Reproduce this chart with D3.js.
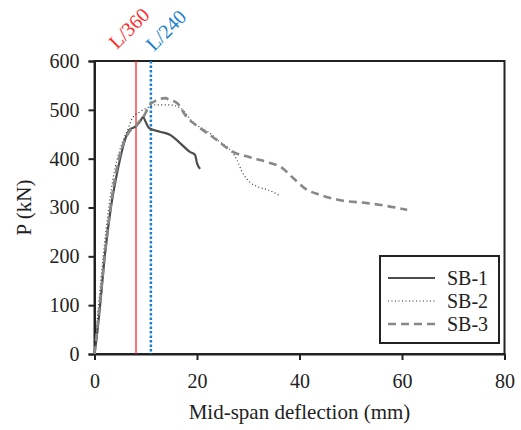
<!DOCTYPE html>
<html>
<head>
<meta charset="utf-8">
<script src="https://cdn.jsdelivr.net/npm/d3@7"></script>
<style>
  body { margin: 0; background: #fff; }
  svg text { font-family: "Liberation Serif", "Times New Roman", Times, serif !important; }
</style>
</head>
<body>
<svg id="chart" width="521" height="430"></svg>
<script>
// data: [deflection mm, load kN]
var sb1 = [[0,0],[0.5,40],[1.1,100],[2.0,200],[3.2,300],[4.2,360],[5.0,400],[6.0,440],[6.9,460],
  [7.9,465],[8.8,475],[9.5,485],[10.0,475],[10.6,463],[12.8,455],[14.7,449],[16.7,432],
  [18.6,414],[19.6,408],[20.0,391],[20.6,379]]
var sb2 = [[0,0],[0.4,50],[0.8,100],[1.7,200],[2.8,300],[3.8,370],[5.0,420],[6.5,460],[7.5,485],
  [8.9,496],[10.5,505],[11.8,510],[14.7,510],[16.7,504],[19.2,475],[22.9,449],[24.5,434],
  [26.8,414],[27.8,397],[28.8,373],[30.3,352],[32.0,342],[33.9,336],[36.2,324]]
var sb3 = [[0,0],[0.6,60],[1.2,120],[2.0,200],[3.0,290],[4.0,360],[5.0,410],[6.0,440],[7.0,458],
  [8.0,465],[8.5,473],[9.5,485],[10.8,510],[12.2,520],[13.8,524],[14.7,520],[16.1,514],
  [18.0,485],[20.6,463],[23.9,438],[27.0,414],[30.3,403],[33.7,393],[36.6,381],[38.8,360],
  [41.5,336],[44.0,326],[47.9,315],[53.2,309],[57.1,303],[61.0,295]]
var limits = [{ label: 'L/360', x: 8.1, color: '#ff2a2a' },
              { label: 'L/240', x: 11.0, color: '#1a7fd0' }]
var xTicks = [0, 20, 40, 60, 80]
var yTicks = [0, 100, 200, 300, 400, 500, 600]
var names = ['SB-1', 'SB-2', 'SB-3']

var svg = d3.select('#chart')
var plotL = 94.5, plotR = 504.5, plotT = 61, plotB = 354

var x = d3.scaleLinear().domain([0, 80]).range([plotL, plotR])
var y = d3.scaleLinear().domain([0, 600]).range([plotB, plotT])

// frame
svg.append('rect')
  .attr('x', plotL).attr('y', plotT)
  .attr('width', plotR - plotL).attr('height', plotB - plotT)
  .attr('fill', 'none').attr('stroke', '#222').attr('stroke-width', 2)

var xAxis = svg.append('g')
  .attr('transform', 'translate(0,' + plotB + ')')
  .call(d3.axisBottom(x).tickValues(xTicks).tickSize(6).tickPadding(14))
var yAxis = svg.append('g')
  .attr('transform', 'translate(' + plotL + ',0)')
  .call(d3.axisLeft(y).tickValues(yTicks).tickSize(6).tickPadding(9))

;[xAxis, yAxis].forEach(function(g){
  g.attr('font-family', null).attr('font-size', null)
  g.select('.domain').attr('stroke', '#222').attr('stroke-width', 2)
  g.selectAll('.tick line').attr('stroke', '#222').attr('stroke-width', 2)
  g.selectAll('.tick text').attr('font-size', 20).attr('fill', '#222')
})

// limit lines
var lineDash = ['none', '2.5,2']
limits.forEach(function(d, i){
  svg.append('line')
    .attr('x1', x(d.x)).attr('x2', x(d.x))
    .attr('y1', plotT).attr('y2', plotB)
    .attr('stroke', d.color)
    .attr('stroke-width', i == 0 ? 1.3 : 2.5)
    .attr('stroke-dasharray', lineDash[i])
})
var labelDx = [-19, 3], labelY = [50, 52]
svg.selectAll('.limitLabel')
  .data(limits)
  .enter()
  .append('text')
  .attr('transform', function(d,i){ return 'translate(' + (x(d.x) + labelDx[i]) + ',' + labelY[i] + ') rotate(-45)' })
  .attr('font-size', 20)
  .attr('fill', function(d){ return d.color })
  .text(function(d){ return d.label })

var line = d3.line()
  .x(function(d){ return x(d[0]) })
  .y(function(d){ return y(d[1]) })
  .curve(d3.curveMonotoneX)

var styles = [
  { color: '#4d4d4d', width: 2.2, dash: 'none' },
  { color: '#333333', width: 1.2, dash: '1,2.5' },
  { color: '#888888', width: 2.6, dash: '8,5' }
]
var series = [sb1, sb2, sb3]

series.forEach(function(s, i){
  svg.append('path')
    .datum(s)
    .attr('d', line)
    .attr('fill', 'none')
    .attr('stroke', styles[i].color)
    .attr('stroke-width', styles[i].width)
    .attr('stroke-dasharray', styles[i].dash)
})

// legend
var legend = svg.append('g')
legend.append('rect')
  .attr('x', 380).attr('y', 256).attr('width', 119).attr('height', 87)
  .attr('fill', '#fff').attr('stroke', '#222').attr('stroke-width', 2)
names.forEach(function(n, i){
  var ly = 278 + i * 23
  legend.append('line')
    .attr('x1', 388).attr('x2', 435).attr('y1', ly).attr('y2', ly)
    .attr('stroke', styles[i].color)
    .attr('stroke-width', styles[i].width)
    .attr('stroke-dasharray', styles[i].dash)
  legend.append('text')
    .attr('x', 447).attr('y', ly + 7)
    .attr('font-size', 20).attr('fill', '#222')
    .text(n)
})

// axis titles
svg.append('text')
  .attr('x', (plotL + plotR) / 2).attr('y', 419)
  .attr('text-anchor', 'middle').attr('font-size', 21).attr('fill', '#222')
  .text('Mid-span deflection (mm)')
svg.append('text')
  .attr('transform', 'translate(31,' + ((plotT + plotB) / 2) + ') rotate(-90)')
  .attr('text-anchor', 'middle').attr('font-size', 21).attr('fill', '#222')
  .text('P (kN)')
</script>
</body>
</html>
